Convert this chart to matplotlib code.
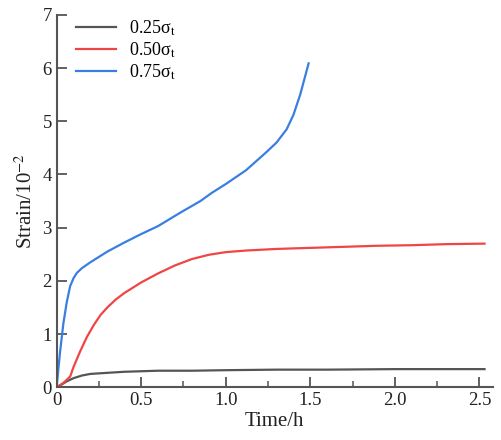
import matplotlib
matplotlib.use('Agg')
import matplotlib.pyplot as plt
from matplotlib.ticker import MultipleLocator

plt.rcParams['font.family'] = ['Liberation Serif', 'DejaVu Serif']
plt.rcParams['mathtext.fontset'] = 'stix'

# 数据
t_025 = [0, 0.03, 0.06, 0.1, 0.15, 0.2, 0.3, 0.4, 0.6, 0.8, 1.0, 1.3, 1.6, 2.0, 2.3, 2.53]
s_025 = [0, 0.05, 0.11, 0.17, 0.22, 0.25, 0.27, 0.29, 0.31, 0.31, 0.32, 0.33, 0.33, 0.34, 0.34, 0.34]

t_050 = [0, 0.04, 0.08, 0.1, 0.14, 0.18, 0.22, 0.26, 0.3, 0.35, 0.4, 0.5, 0.6, 0.7, 0.8,
         0.9, 1.0, 1.12, 1.3, 1.5, 1.7, 1.9, 2.1, 2.3, 2.53]
s_050 = [0, 0.08, 0.2, 0.38, 0.68, 0.95, 1.17, 1.36, 1.5, 1.65, 1.77, 1.97, 2.14, 2.29, 2.41,
         2.49, 2.54, 2.57, 2.6, 2.62, 2.64, 2.66, 2.67, 2.69, 2.70]

t_075 = [0, 0.02, 0.04, 0.06, 0.08, 0.10, 0.12, 0.15, 0.2, 0.3, 0.4, 0.5, 0.6, 0.73, 0.85,
         0.92, 1.0, 1.12, 1.24, 1.30, 1.36, 1.40, 1.44, 1.49]
s_075 = [0, 0.65, 1.2, 1.6, 1.9, 2.05, 2.15, 2.24, 2.35, 2.55, 2.72, 2.88, 3.03, 3.28, 3.5,
         3.66, 3.82, 4.08, 4.42, 4.6, 4.85, 5.12, 5.5, 6.09]

labels = ['0.25σ$_{\\rm t}$', '0.50σ$_{\\rm t}$', '0.75σ$_{\\rm t}$']
colors = ['#555555', '#f04545', '#3a7fe0']

fig = plt.figure(figsize=(5.01, 4.4), dpi=100)
ax = fig.add_axes([0.113, 0.12, 0.871, 0.846])

ax.plot(t_025, s_025, color=colors[0], lw=1.6, label=labels[0])
ax.plot(t_050, s_050, color=colors[1], lw=1.6, label=labels[1])
ax.plot(t_075, s_075, color=colors[2], lw=1.6, label=labels[2])

ax.set_xlim(0, 2.58)
ax.set_ylim(0, 7)
ax.xaxis.set_minor_locator(MultipleLocator(0.25))
ax.yaxis.set_major_locator(MultipleLocator(1))
ax.set_xticks([0, 0.5, 1.0, 1.5, 2.0, 2.5])
ax.set_xticklabels(['0', '0.5', '1.0', '1.5', '2.0', '2.5'])

for side in ['top', 'right']:
    ax.spines[side].set_visible(False)
for side in ['left', 'bottom']:
    ax.spines[side].set_color('#555555')
    ax.spines[side].set_linewidth(1.5)

ax.tick_params(which='major', direction='in', length=7, width=1.3, color='#555555',
               labelsize=13.5, labelcolor='#222222')
ax.tick_params(which='minor', direction='in', length=4, width=1.1, color='#555555')

ax.set_xlabel('Time/h', fontsize=15, color='#222222', labelpad=2)
ax.set_ylabel('Strain/10$^{-2}$', fontsize=15, color='#222222', labelpad=4)

ax.legend(loc='upper left', bbox_to_anchor=(0.008, 1.035), frameon=False, fontsize=13,
          handlelength=2.2, handletextpad=0.7, labelspacing=0.15)

plt.savefig('out.png', dpi=100)
